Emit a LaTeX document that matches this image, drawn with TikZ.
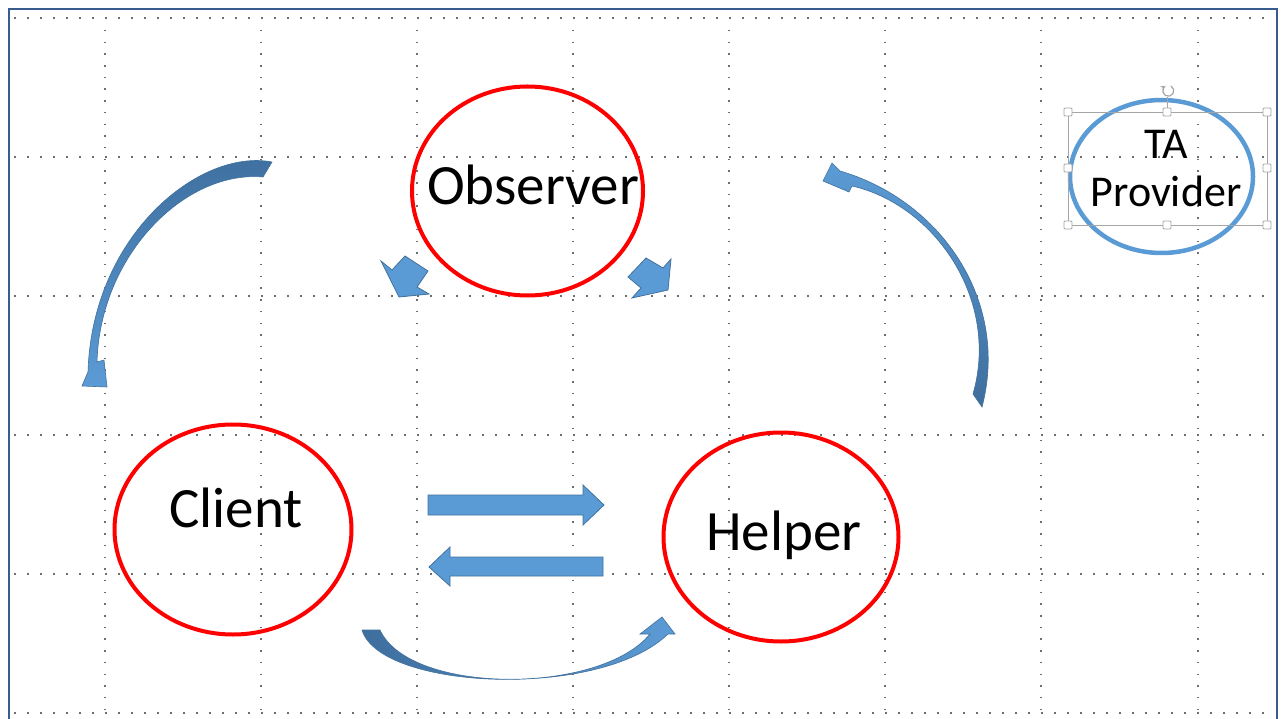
\documentclass[tikz,border=0pt]{standalone}
\usepackage{fontspec}
\setmainfont{Carlito}
\usetikzlibrary{shapes.geometric}

\definecolor{ringred}{RGB}{255,0,0}
\definecolor{ringblue}{RGB}{91,155,213}
\definecolor{arrowfill}{RGB}{91,155,213}
\definecolor{arrowline}{RGB}{65,113,156}
\definecolor{arrowdark}{RGB}{62,110,158}
\definecolor{framecol}{RGB}{58,92,140}
\definecolor{griddot}{RGB}{110,110,110}
\definecolor{selgray}{RGB}{165,165,165}

\begin{document}
\begin{tikzpicture}[x=1pt, y=-1pt,
		ring/.style={draw=ringred, line width=4pt, ellipse, inner sep=0pt},
		taring/.style={draw=ringblue, line width=4.5pt, ellipse, inner sep=0pt, minimum width=183pt, minimum height=153pt},
		ringtext/.style={font=\fontsize{57}{60}\selectfont, anchor=base, inner sep=0pt},
		tatext/.style={font=\fontsize{44}{48}\selectfont, anchor=base, inner sep=0pt},
		gridrow/.style={griddot, line width=1.5pt, dash pattern=on 1.5pt off 11.5pt},
		gridcol/.style={griddot, line width=1.5pt, dash pattern=on 1.5pt off 10.2pt},
		blockarrow/.style={fill=arrowfill, draw=arrowline, line width=0.8pt, line join=miter},
		bentarrow/.style={draw=arrowline, line width=0.6pt, line join=miter},
		handle/.style={draw=selgray, fill=white, line width=0.8pt, minimum size=8pt, inner sep=0pt, rounded corners=1pt}
		]
		\useasboundingbox (0,0) rectangle (1282,719);
		
		% ======================
		% Grid and frame
		% ======================
		\foreach \gy in {18,157,296,435,574,713}
			\draw[gridrow] (14,\gy) -- (1272,\gy);
		\foreach \gx in {105,261,417,573,729,885,1041,1198}
			\draw[gridcol] (\gx,30) -- (\gx,719);
		
		\draw[framecol, line width=2.5pt] (9,719) -- (9,9) -- (1277,9) -- (1277,719);
		
		% ======================
		% Roles
		% ======================
		\node[ring, minimum width=231pt, minimum height=209pt] (obs) at (527.5,191) {};
		\node[ring, minimum width=237pt, minimum height=210pt] (cli) at (233,529.5) {};
		\node[ring, minimum width=235pt, minimum height=209pt] (hlp) at (781,537) {};
		
		\node[ringtext] (obstext) at (533,205) {Observer};
		\node[ringtext] (clitext) at (236,527) {Client};
		\node[ringtext] (hlptext) at (784,550) {Helper};
		
		% ======================
		% TA provider (selected)
		% ======================
		\node[taring] (ta) at (1161.5,176.5) {};
		\node[tatext] (tatxt) at (1166,159) {TA};
		\node[tatext] (provtxt) at (1166,207) {Provider};
		
		\draw[selgray, line width=0.8pt] (1068,112) rectangle (1267,225);
		\draw[selgray, line width=0.8pt] (1167,112) -- (1167,97);
		\draw[selgray, line width=1.2pt, -stealth] (1171,86) arc (-60:240:5.5);
		\foreach \hx/\hy [count=\i] in {1068/112,1167/112,1267/112,1068/168,1267/168,1068/225,1167/225,1267/225}
			\node[handle] (h\i) at (\hx,\hy) {};
		
		% ======================
		% Straight arrows
		% ======================
		\draw[blockarrow] (428,495) -- (583,495) -- (583,485) -- (604,505)
			-- (583,525) -- (583,515) -- (428,515) -- cycle;
		\draw[blockarrow] (603,557) -- (450,557) -- (450,547) -- (429,567)
			-- (450,586) -- (450,576) -- (603,576) -- cycle;
		
		% stubby arrows below Observer
		\draw[blockarrow] (399,297) -- (381,261) -- (392,270) -- (405,256)
			-- (428,271) -- (417,287) -- (429,294) -- cycle;
		\draw[blockarrow] (668,290) -- (671,259) -- (663,268) -- (646,258)
			-- (628,277) -- (641,288) -- (632,298) -- cycle;
		
		% ======================
		% Curved arrows
		% ======================
		\draw[bentarrow, top color=arrowdark, bottom color=arrowfill]
			(272,162) .. controls (200,148) and (92,235) .. (88,372)
			-- (82,386) -- (107,387) -- (104,360) -- (97,362)
			.. controls (100,255) and (185,170) .. (263,177) -- cycle;
		
		\draw[bentarrow, bottom color=arrowdark, top color=arrowfill]
			(982,407) .. controls (1010,300) and (940,200) .. (840,171)
			-- (832,163) -- (823,181) -- (849,192) -- (852,186)
			.. controls (935,205) and (1000,300) .. (973,394) -- cycle;
		
		\draw[bentarrow, left color=arrowdark, right color=arrowfill]
			(362,630) .. controls (380,690) and (600,700) .. (668,634)
			-- (675,634) -- (662,617) -- (640,634) -- (650,634)
			.. controls (600,695) and (410,695) .. (380,630) -- cycle;
		
	\end{tikzpicture}
\end{document}
